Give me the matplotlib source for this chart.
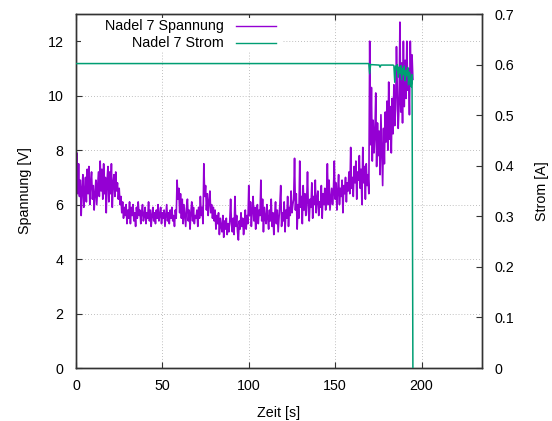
import matplotlib
matplotlib.use("Agg")
import matplotlib.pyplot as plt
from matplotlib.patches import Rectangle

plt.rcParams["font.family"] = ["Liberation Sans", "DejaVu Sans"]
plt.rcParams["font.size"] = 10.3

# Voltage samples (0.5 s spacing, starting at t = 0 s)
spannung = [
    7.2, 7.9, 6.4, 7.5, 6.3, 6.9, 5.6, 6.6, 7.1, 5.9, 6.5, 7.0, 6.1, 7.3, 6.4, 7.4, 6.0, 6.8, 7.2, 6.2,
    6.7, 5.8, 6.4, 6.9, 6.0, 6.6, 7.2, 6.3, 7.6, 6.5, 7.3, 6.2, 7.5, 6.4, 7.0, 5.7, 6.9, 7.4, 6.1, 7.2,
    6.4, 7.5, 5.9, 6.8, 7.1, 6.3, 7.2, 6.5, 6.8, 6.2, 6.6, 6.0, 6.3, 5.7, 6.1, 5.5, 5.9, 5.6, 6.0, 5.3,
    5.8, 5.5, 6.1, 5.3, 5.9, 5.6, 6.0, 5.4, 5.7, 5.2, 5.9, 5.5, 6.1, 5.6, 5.8, 5.3, 5.7, 6.0, 5.4, 5.6,
    5.9, 5.3, 5.7, 5.5, 6.1, 5.4, 5.8, 5.2, 5.6, 5.9, 5.4, 5.7, 5.3, 5.8, 5.5, 6.0, 5.4, 5.6, 5.9, 5.3,
    5.7, 5.5, 5.8, 5.2, 5.6, 6.0, 5.4, 5.7, 5.3, 5.8, 5.5, 5.9, 5.4, 5.6, 5.2, 5.8, 5.5, 6.9, 6.2, 6.6,
    5.7, 6.4, 5.5, 6.2, 5.3, 6.0, 5.6, 5.2, 5.9, 6.2, 5.4, 5.8, 5.1, 5.7, 6.1, 5.4, 5.9, 5.3, 5.6, 5.5,
    5.8, 5.2, 5.9, 5.5, 6.3, 5.6, 5.9, 5.3, 7.5, 6.3, 6.7, 5.8, 6.4, 5.6, 6.1, 6.5, 5.7, 6.0, 5.5, 5.9,
    5.4, 5.8, 5.1, 5.6, 5.3, 5.7, 4.9, 5.5, 5.2, 5.0, 5.6, 4.8, 5.4, 5.1, 5.5, 4.9, 5.3, 5.0, 5.4, 6.2,
    5.3, 5.0, 5.5, 4.9, 6.3, 5.2, 5.6, 5.0, 4.7, 5.4, 5.1, 5.7, 5.2, 5.5, 4.9, 5.3, 5.8, 5.1, 5.6, 5.3,
    6.7, 5.6, 6.1, 5.2, 5.8, 6.3, 5.4, 5.9, 5.1, 5.7, 6.0, 5.3, 5.8, 5.6, 6.9, 5.4, 6.2, 5.0, 5.9, 5.5,
    5.3, 6.0, 5.5, 5.1, 5.8, 5.4, 6.2, 5.2, 5.7, 4.9, 5.6, 6.1, 5.3, 5.8, 5.0, 5.5, 6.0, 6.7, 5.2, 5.7,
    5.4, 6.1, 5.0, 5.8, 5.5, 6.3, 5.2, 5.9, 5.6, 6.5, 5.7, 6.0, 6.2, 7.7, 5.8, 6.4, 5.1, 6.0, 5.5, 7.6,
    5.9, 6.3, 5.3, 6.7, 5.8, 6.4, 5.6, 6.1, 7.2, 5.8, 5.4, 6.2, 5.9, 6.8, 5.5, 6.3, 6.0, 6.9, 5.7, 6.2,
    6.5, 5.6, 6.1, 5.9, 6.7, 5.5, 6.4, 6.0, 6.6, 5.8, 6.3, 7.5, 6.0, 6.9, 5.8, 6.2, 6.6, 6.0, 6.5, 7.6,
    6.2, 6.8, 5.8, 6.5, 7.1, 6.0, 6.6, 6.3, 6.9, 5.7, 6.7, 6.4, 7.0, 6.1, 6.8, 6.5, 7.2, 6.4, 8.1, 6.6,
    7.0, 6.3, 7.4, 6.8, 7.6, 6.2, 7.2, 6.9, 7.8, 6.6, 7.3, 6.0, 8.1, 6.8, 7.4, 6.2, 7.5, 6.7, 7.1, 6.4,
    12.0, 8.2, 10.3, 7.6, 9.1, 7.9, 8.6, 10.1, 7.4, 9.0, 7.8, 8.7, 7.1, 9.3, 8.0, 6.7, 8.8, 7.5, 9.4, 8.3,
    9.8, 8.0, 10.5, 8.4, 9.6, 7.9, 9.9, 8.6, 10.4, 8.9, 9.5, 11.8, 10.1, 8.8, 9.7, 12.7, 9.4, 11.2, 9.0, 12.0,
    9.6, 11.3, 9.9, 12.0, 10.2, 11.0, 9.3, 12.0, 10.4, 11.5, 10.6,
]
zeit_spannung = [0.5 * i for i in range(len(spannung))]

# Current samples (irregular spacing)
zeit_strom = [0.0, 169.5, 170.0, 170.5, 175.5, 176.0, 176.5, 183.5,
              184.0, 184.5, 185.0, 185.5, 186.0, 186.5, 187.0, 187.5, 188.0, 188.5,
              189.0, 189.5, 190.0, 190.5, 191.0, 191.5, 192.0, 192.5, 193.0, 193.5,
              194.0, 194.5, 195.0]
strom = [0.602, 0.602, 0.582, 0.600, 0.599, 0.595, 0.599, 0.599,
         0.598, 0.565, 0.597, 0.590, 0.600, 0.575, 0.595, 0.583, 0.598, 0.570,
         0.592, 0.580, 0.597, 0.568, 0.588, 0.578, 0.594, 0.560, 0.585, 0.572,
         0.556, 0.580, 0.0]

x_ticks = [0, 50, 100, 150, 200]
y_ticks = [0, 2, 4, 6, 8, 10, 12]
y2_ticks = [0, 0.1, 0.2, 0.3, 0.4, 0.5, 0.6, 0.7]
y2_labels = ["0", "0.1", "0.2", "0.3", "0.4", "0.5", "0.6", "0.7"]

purple = "#9400D3"
green = "#009E73"
border = "#333333"

fig = plt.figure(figsize=(5.52, 4.21), dpi=100)
ax = fig.add_axes([76 / 552, 53 / 421, 406 / 552, 354 / 421])
ax2 = ax.twinx()

ax.set_xlim(0, 235)
ax.set_ylim(0, 13)
ax2.set_ylim(0, 0.7)

ax.set_xticks(x_ticks)
ax.set_yticks(y_ticks)
ax2.set_yticks(y2_ticks)
ax2.set_yticklabels(y2_labels)

ax.set_axisbelow(True)
ax.grid(True, color="#aaaaaa", linestyle=(0, (1, 2.5)), linewidth=0.6)

ax.tick_params(axis="x", direction="in", length=4.5, top=True, bottom=True,
               pad=8, color=border, width=0.8)
ax.tick_params(axis="y", direction="in", length=4.5, left=True, right=False,
               pad=9, color=border, width=0.8)
ax2.tick_params(axis="y", direction="in", length=4.5, right=True, left=False,
                pad=9, color=border, width=0.8)

for a in (ax, ax2):
    for s in a.spines.values():
        s.set_color(border)
        s.set_linewidth(1.0)

ax.plot(zeit_spannung, spannung, color=purple, linewidth=1.2, zorder=2)
ax2.plot(zeit_strom, strom, color=green, linewidth=1.1, zorder=3)

ax.set_xlabel("Zeit [s]", labelpad=9)
ax.set_ylabel("Spannung [V]", labelpad=11)
ax2.set_ylabel("Strom [A]", labelpad=15)

# Key in the upper left corner on an opaque background
ax.add_patch(Rectangle((0.012, 0.895), 0.495, 0.095, transform=ax.transAxes,
                       facecolor="white", edgecolor="none", zorder=1))
entries = [("Nadel 7 Spannung", purple, 0.967), ("Nadel 7 Strom", green, 0.919)]
for label, color, yy in entries:
    ax2.text(0.3645, yy, label, transform=ax2.transAxes, ha="right", va="center",
             fontsize=10.3, zorder=4)
    ax2.plot([0.393, 0.492], [yy, yy], transform=ax2.transAxes, color=color,
             linewidth=1.0, clip_on=False, zorder=4)

fig.savefig("out.png", dpi=100, facecolor="white")
